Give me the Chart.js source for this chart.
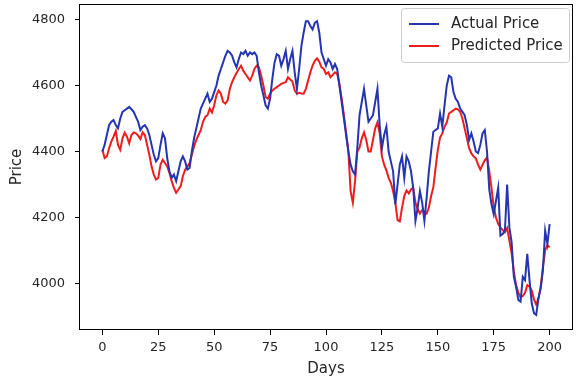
<!DOCTYPE html>
<html>
<head>
<meta charset="utf-8">
<script src="https://cdn.jsdelivr.net/npm/chart.js@4.4.0/dist/chart.umd.min.js"></script>
<style>
  html, body { margin: 0; padding: 0; background: #ffffff; }
  #wrap { width: 577px; height: 380px; }
</style>
</head>
<body>
<div id="wrap"><canvas id="c" width="577" height="380"></canvas></div>
<script>
// Daily closing prices: observed vs. model output
const actualPrice = [
  4400, 4420, 4450, 4480, 4490, 4495, 4480, 4470, 4500, 4520,
  4525, 4530, 4535, 4528, 4520, 4505, 4490, 4465, 4475, 4480,
  4470, 4450, 4420, 4390, 4370, 4380, 4420, 4455, 4440, 4380,
  4340, 4320, 4330, 4310, 4340, 4370, 4385, 4370, 4345, 4350,
  4400, 4440, 4470, 4500, 4530, 4545, 4560, 4575, 4550, 4560,
  4580, 4600, 4630, 4650, 4670, 4690, 4705, 4700, 4690, 4670,
  4655, 4680, 4700, 4695, 4705, 4690, 4700, 4695, 4700, 4690,
  4640, 4600, 4570, 4540, 4530, 4560, 4620, 4670, 4695, 4690,
  4660, 4680, 4705, 4650, 4680, 4705, 4640, 4590, 4650, 4720,
  4760, 4795, 4795, 4780, 4770, 4790, 4795, 4760, 4700, 4680,
  4660, 4680, 4670, 4650, 4665, 4650, 4600, 4550, 4500, 4450,
  4400, 4360, 4340, 4330, 4410, 4510, 4550, 4590, 4540, 4490,
  4500, 4510, 4550, 4590, 4480, 4410, 4450, 4475, 4400, 4370,
  4340, 4240, 4300, 4360, 4385, 4320, 4385, 4370, 4340, 4290,
  4190, 4230, 4280, 4245, 4190, 4260, 4340, 4400, 4460, 4465,
  4470, 4515, 4475, 4540, 4600, 4630, 4625, 4580, 4560, 4550,
  4530, 4520, 4510, 4480, 4435, 4455, 4430, 4400, 4395, 4420,
  4455, 4465, 4400, 4285, 4240, 4210, 4250, 4290, 4145, 4150,
  4160, 4300, 4170, 4125, 4020, 3990, 3950, 3945, 4020, 4010,
  4090, 4010, 3940, 3910, 3905, 3955, 3985, 4040, 4160, 4120,
  4180
];

const predictedPrice = [
  4405, 4380, 4385, 4410, 4430, 4445, 4462, 4420, 4405, 4440,
  4457, 4445, 4425, 4450, 4458, 4455, 4448, 4438, 4458, 4450,
  4420, 4390, 4355, 4330, 4315, 4320, 4360, 4375, 4365, 4355,
  4335, 4310, 4290, 4275, 4285, 4295, 4325, 4345, 4355, 4365,
  4390, 4415, 4435, 4450, 4465, 4490, 4505, 4510, 4530, 4518,
  4540, 4570, 4585, 4575, 4550, 4545, 4555, 4590, 4610, 4625,
  4638, 4650, 4660, 4645, 4635, 4625, 4615, 4630, 4650, 4660,
  4655, 4630, 4600, 4565, 4560, 4575, 4585, 4590, 4595, 4600,
  4605, 4608, 4610, 4625, 4618, 4612, 4585, 4575, 4578, 4576,
  4575, 4590, 4615, 4640, 4660, 4675, 4682, 4672, 4655, 4650,
  4635, 4640, 4625, 4632, 4640, 4635, 4605, 4560, 4510, 4455,
  4400, 4280, 4245, 4310, 4400, 4412, 4440, 4458, 4435, 4400,
  4400, 4435, 4470, 4488, 4455, 4385, 4360, 4343, 4320, 4305,
  4280, 4245, 4192, 4188, 4230, 4265, 4282, 4273, 4285, 4290,
  4245, 4225, 4212, 4222, 4218, 4212, 4230, 4265, 4292, 4350,
  4405, 4442, 4455, 4475, 4488, 4515, 4520, 4525, 4530, 4528,
  4520, 4500, 4470, 4440, 4410, 4394, 4385, 4379, 4360, 4345,
  4360, 4373, 4382, 4340, 4290, 4232, 4200, 4180, 4170, 4162,
  4155, 4168, 4130, 4092, 4035, 3995, 3972, 3958, 3962, 3972,
  3995, 3990, 3978, 3952, 3936, 3955, 3990, 4050, 4100, 4116,
  4110
];

// Day index for each observation
const days = actualPrice.map((_, i) => i);

const xTicks = [0, 25, 50, 75, 100, 125, 150, 175, 200];
const yTicks = [4000, 4200, 4400, 4600, 4800];

const seriesNames = ['Actual Price', 'Predicted Price'];
const seriesColors = ['#2535b0', '#ee1c1c'];

const FONT = "'DejaVu Sans', 'Liberation Sans', sans-serif";
const TEXT = '#262626';

// Black box around the plotting area
const framePlugin = {
  id: 'frame',
  afterDatasetsDraw(chart) {
    const { ctx, chartArea: a } = chart;
    ctx.save();
    ctx.strokeStyle = '#000';
    ctx.lineWidth = 1;
    ctx.strokeRect(Math.round(a.left) - 0.5, Math.round(a.top) + 0.5,
                   Math.round(a.right - a.left) + 1, Math.round(a.bottom - a.top) - 1);
    ctx.restore();
  }
};

// Boxed legend in the upper-right corner of the plot
const insideLegend = {
  id: 'insideLegend',
  afterDraw(chart) {
    const { ctx, chartArea: a } = chart;
    const sets = chart.data.datasets;
    const boxW = 168, boxH = 54;
    const x0 = a.right - boxW - 3, y0 = a.top + 4;
    ctx.save();
    ctx.fillStyle = 'rgba(255,255,255,0.85)';
    ctx.strokeStyle = '#cccccc';
    ctx.lineWidth = 1;
    ctx.beginPath();
    ctx.roundRect(x0 + 0.5, y0 + 0.5, boxW, boxH, 3);
    ctx.fill();
    ctx.stroke();
    ctx.font = '15px ' + FONT;
    ctx.textBaseline = 'middle';
    sets.forEach((ds, i) => {
      const cy = y0 + 16 + i * 22;
      ctx.strokeStyle = ds.borderColor;
      ctx.lineWidth = 2;
      ctx.beginPath();
      ctx.moveTo(x0 + 8, cy);
      ctx.lineTo(x0 + 38, cy);
      ctx.stroke();
      ctx.fillStyle = TEXT;
      ctx.fillText(ds.label, x0 + 50, cy);
    });
    ctx.restore();
  }
};

const makeSet = (i, values) => ({
  label: seriesNames[i],
  data: values.map((v, k) => ({ x: days[k], y: v })),
  borderColor: seriesColors[i],
  backgroundColor: seriesColors[i],
  borderWidth: 2,
  pointRadius: 0,
  tension: 0,
  fill: false
});

const plain = v => String(v);

new Chart(document.getElementById('c'), {
  type: 'line',
  data: { datasets: [makeSet(0, actualPrice), makeSet(1, predictedPrice)] },
  options: {
    responsive: false,
    animation: false,
    layout: { padding: { left: 0, right: 5, top: 4, bottom: 0 } },
    plugins: { legend: { display: false }, tooltip: { enabled: false } },
    scales: {
      x: {
        type: 'linear',
        min: -10,
        max: 210,
        afterBuildTicks: s => { s.ticks = xTicks.map(v => ({ value: v })); },
        afterFit: s => { s.height = 50; s.paddingLeft = 0; s.paddingRight = 0; },
        grid: { drawOnChartArea: false, drawTicks: true, tickLength: 5, tickColor: '#000' },
        border: { display: false },
        ticks: { color: TEXT, font: { family: FONT, size: 13 }, padding: 5, maxRotation: 0, callback: plain },
        title: { display: true, text: 'Days', color: TEXT, font: { family: FONT, size: 15 }, padding: { top: 0, bottom: 2 } }
      },
      y: {
        type: 'linear',
        min: 3859,
        max: 4847,
        afterBuildTicks: s => { s.ticks = yTicks.map(v => ({ value: v })); },
        afterFit: s => { s.width = 80; s.paddingTop = 0; s.paddingBottom = 0; },
        grid: { drawOnChartArea: false, drawTicks: true, tickLength: 5, tickColor: '#000' },
        border: { display: false },
        ticks: { color: TEXT, font: { family: FONT, size: 13 }, padding: 10, callback: plain },
        title: { display: true, text: 'Price', color: TEXT, font: { family: FONT, size: 15 }, padding: { top: 8, bottom: 0 } }
      }
    }
  },
  plugins: [framePlugin, insideLegend]
});
</script>
</body>
</html>
